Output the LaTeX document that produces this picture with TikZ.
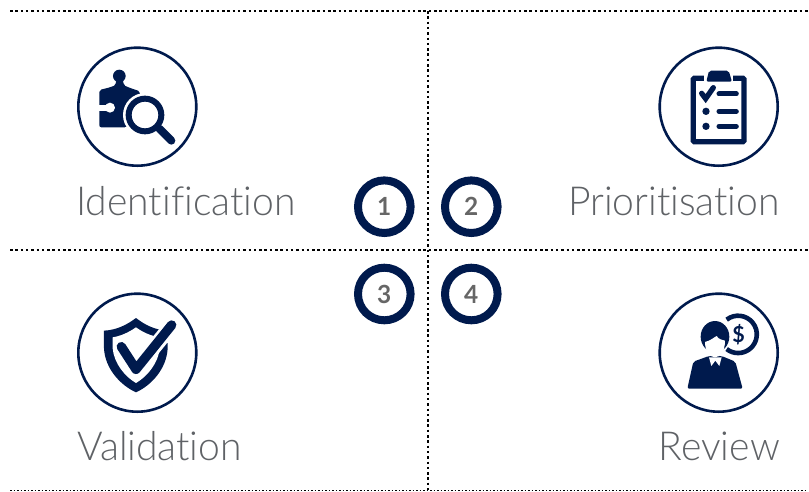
\documentclass[tikz,border=0pt]{standalone}
\usepackage{fontspec}
\setmainfont{Lato}[UprightFont={* Light},BoldFont={* Bold},Ligatures=NoCommon,FakeStretch=0.977]
\usepackage{tikz}
\usetikzlibrary{positioning}
\definecolor{navy}{HTML}{001A4D}
\definecolor{labelgrey}{HTML}{5F6266}
\definecolor{digitgrey}{HTML}{666666}

\tikzset{
  iconRing/.style = {circle, draw = navy, line width = 2.6pt, minimum size = 118pt, inner sep = 0pt},
  numRing/.style = {circle, draw = navy, line width = 8pt, minimum size = 52.6pt, inner sep = 0pt, text = digitgrey, font = \fontsize{25}{25}\selectfont\bfseries},
  title/.style = {text = labelgrey, inner sep = 0pt, font = \fontsize{40}{40}\selectfont},
  gridLine/.style = {line width = 2.5pt, dash pattern = on 2.5pt off 2.8pt},
  zoomed/.style = {x = 0.3333pt, y = -0.3333pt}
}

\begin{document}
\begin{tikzpicture}[x = 1pt, y = -1pt]
        \useasboundingbox (0, 0) rectangle (809, 491);

        \coordinate (topL) at (10, 11);
        \coordinate (topR) at (808, 11);
        \coordinate (midL) at (10, 250);
        \coordinate (midR) at (808, 250);
        \coordinate (botL) at (10, 490);
        \coordinate (botR) at (808, 490);
        \coordinate (topC) at (428, 11);
        \coordinate (botC) at (428, 490);

        \draw[gridLine] (topL) -- (topR);
        \draw[gridLine] (midL) -- (midR);
        \draw[gridLine] (topC) -- (botC);
        \draw[line width = 1pt, dash pattern = on 1.5pt off 2pt] (botL) -- (botR);

        \node[iconRing] (ringI) at (137.3, 106.7) {};
        \node[iconRing] (ringP) at (718.7, 106.7) {};
        \node[iconRing] (ringV) at (137.3, 352.7) {};
        \node[iconRing] (ringR) at (718.7, 352.7) {};

        \node[title, anchor = base west] (identification) at (76, 215) {Identification};
        \node[title, anchor = base east] (prioritisation) at (780, 215) {Prioritisation};
        \node[title, anchor = base west] (validation) at (77, 460) {Validation};
        \node[title, anchor = base east] (review) at (780, 460) {Review};

        \node[numRing] (one) at (384.3, 206.7) {1};
        \node[numRing] (two) at (471.3, 206.7) {2};
        \node[numRing] (three) at (384.3, 294) {3};
        \node[numRing] (four) at (471.3, 294) {4};

        % puzzle piece and magnifier
        \begin{scope}[shift = {(60, 30)}, zoomed]
          \fill[navy, rounded corners = 2pt] (118, 292) -- (118, 180) -- (150, 172) -- (168, 165) -- (168, 150) -- (190, 150) -- (190, 165) -- (205, 172) -- (240, 184) -- (240, 292) -- cycle;
          \fill[navy] (178, 138) circle [radius = 19];
          \fill[white] (150, 233) circle [radius = 15];
          \fill[white] (112, 224) rectangle (140, 244);
          \fill[white] (255, 255) circle [radius = 66];
          \fill[white] (196, 292) rectangle (260, 330);
          \draw[navy, line width = 6pt] (255, 255) circle [radius = 49];
          \draw[navy, line width = 8pt, line cap = round] (298, 296) -- (334, 332);
        \end{scope}

        % clipboard
        \begin{scope}[shift = {(640, 30)}, zoomed]
          \draw[navy, line width = 5.3pt, rounded corners = 1pt] (160, 145) rectangle (312, 335);
          \fill[white] (192, 130) rectangle (280, 160);
          \fill[navy, rounded corners = 2pt] (199, 155) -- (207, 122) -- (266, 122) -- (276, 155) -- cycle;
          \draw[navy, line width = 5.3pt, line cap = round] (185, 190) -- (197, 206) -- (220, 173);
          \draw[navy, line width = 5pt, line cap = round] (237, 192) -- (289, 192);
          \draw[navy, line width = 5pt, line cap = round] (237, 244) -- (289, 244);
          \draw[navy, line width = 5pt, line cap = round] (237, 289) -- (289, 289);
          \fill[navy] (198, 244) circle [radius = 11];
          \fill[navy] (198, 289) circle [radius = 11];
        \end{scope}

        % shield with tick
        \begin{scope}[shift = {(60, 280)}, zoomed]
          \fill[navy] (228, 114) .. controls (200, 135) and (170, 150) .. (132, 152) -- (132, 205) .. controls (135, 265) and (180, 315) .. (228, 337) .. controls (276, 315) and (320, 265) .. (323, 205) -- (323, 152) .. controls (285, 150) and (255, 135) .. (228, 114) -- cycle;
          \fill[white] (228, 142) .. controls (205, 158) and (182, 168) .. (158, 172) -- (158, 205) .. controls (162, 250) and (195, 290) .. (228, 309) .. controls (261, 290) and (295, 250) .. (299, 205) -- (299, 172) .. controls (274, 168) and (250, 158) .. (228, 142) -- cycle;
          \draw[white, line width = 15pt] (228, 268) -- (355, 112);
          \fill[white] (300, 140) rectangle (350, 190);
          \draw[navy, line width = 9.4pt, line cap = round, line join = round] (184, 200) -- (228, 268) -- (335, 135);
        \end{scope}

        % person and coin
        \begin{scope}[shift = {(640, 280)}, zoomed]
          \draw[navy, line width = 4.6pt] (260, 119) arc [start angle = -128, end angle = 128, radius = 56];
          \node[text = navy, inner sep = 0pt, font = \fontsize{22}{22}\selectfont\bfseries] (dollar) at (296, 165) {\$};
          \fill[navy, rounded corners = 2pt] (142, 326) -- (160, 245) -- (207, 228) -- (245, 228) -- (286, 245) -- (308, 326) -- cycle;
          \fill[white] (207, 232) -- (214, 258) -- (226, 242) -- (238, 258) -- (245, 232) -- cycle;
          \fill[navy] (225, 170) ellipse [x radius = 43, y radius = 47];
          \fill[white] (195, 186) .. controls (212, 182) and (222, 172) .. (230, 168) .. controls (236, 178) and (246, 180) .. (255, 182) .. controls (255, 212) and (242, 232) .. (225, 232) .. controls (208, 232) and (195, 212) .. (195, 186) -- cycle;
        \end{scope}
      \end{tikzpicture}
\end{document}
